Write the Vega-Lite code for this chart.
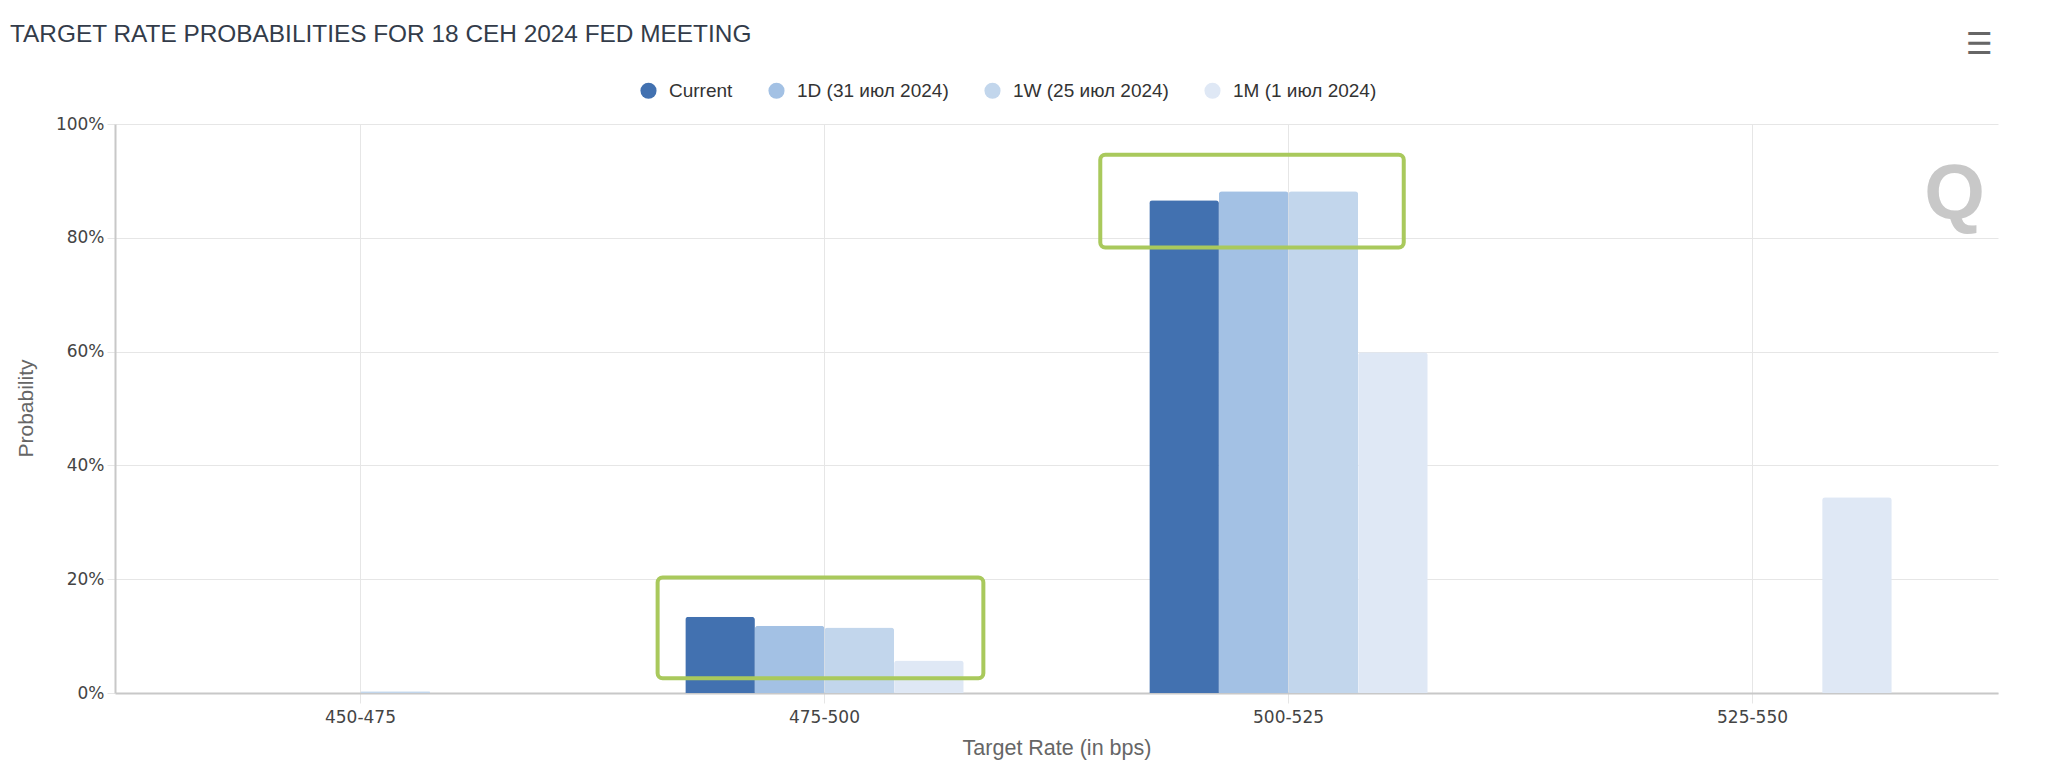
{
  "$schema": "https://vega.github.io/schema/vega-lite/v6.json",
  "width": 1883,
  "height": 569,
  "autosize": {"type": "none"},
  "padding": {"left": 115, "top": 124, "right": 50, "bottom": 76},
  "background": "white",
  "title": {
    "text": "TARGET RATE PROBABILITIES FOR 18 СЕН 2024 FED MEETING",
    "anchor": "start",
    "frame": "group",
    "font": "Liberation Sans",
    "fontSize": 24.4,
    "fontWeight": "normal",
    "color": "#333c4a",
    "baseline": "alphabetic",
    "offset": 0,
    "dx": -105,
    "dy": 36
  },
  "datasets": {
    "probs": [
      {"rate": "450-475", "series": "Current", "prob": 0},
      {"rate": "450-475", "series": "1D (31 июл 2024)", "prob": 0},
      {"rate": "450-475", "series": "1W (25 июл 2024)", "prob": 0.3},
      {"rate": "450-475", "series": "1M (1 июл 2024)", "prob": 0},
      {"rate": "475-500", "series": "Current", "prob": 13.4},
      {"rate": "475-500", "series": "1D (31 июл 2024)", "prob": 11.8},
      {"rate": "475-500", "series": "1W (25 июл 2024)", "prob": 11.5},
      {"rate": "475-500", "series": "1M (1 июл 2024)", "prob": 5.7},
      {"rate": "500-525", "series": "Current", "prob": 86.6},
      {"rate": "500-525", "series": "1D (31 июл 2024)", "prob": 88.2},
      {"rate": "500-525", "series": "1W (25 июл 2024)", "prob": 88.2},
      {"rate": "500-525", "series": "1M (1 июл 2024)", "prob": 59.9},
      {"rate": "525-550", "series": "Current", "prob": 0},
      {"rate": "525-550", "series": "1D (31 июл 2024)", "prob": 0},
      {"rate": "525-550", "series": "1W (25 июл 2024)", "prob": 0},
      {"rate": "525-550", "series": "1M (1 июл 2024)", "prob": 34.4}
    ],
    "boxes": [
      {"rate": "475-500", "lo": 2.6, "hi": 20.3},
      {"rate": "500-525", "lo": 78.3, "hi": 94.6}
    ],
    "marks": [
      {"rate": "525-550", "label": "Q", "level": 87.3},
      {"rate": "525-550", "label": "☰", "level": 113.8}
    ]
  },
  "layer": [
    {
      "data": {"name": "probs"},
      "mark": {"type": "bar", "cornerRadiusTopLeft": 3, "cornerRadiusTopRight": 3},
      "encoding": {
        "x": {
          "field": "rate",
          "type": "nominal",
          "sort": ["450-475", "475-500", "500-525", "525-550"],
          "scale": {"paddingInner": 0.4, "paddingOuter": 0.229},
          "axis": {
            "title": "Target Rate (in bps)",
            "bandPosition": 0.5,
            "labelAngle": 0,
            "labelFont": "DejaVu Sans",
            "labelFontSize": 17,
            "labelColor": "#444444",
            "labelPadding": 6,
            "labelBaseline": "top",
            "tickSize": 10,
            "tickColor": "#e6e6e6",
            "grid": true,
            "gridColor": "#e6e6e6",
            "gridWidth": 1,
            "domainColor": "#c8c8c8",
            "domainWidth": 2,
            "titleFont": "Liberation Sans",
            "titleFontSize": 21.5,
            "titleFontWeight": "normal",
            "titleColor": "#666666",
            "titleY": 55,
            "titleBaseline": "middle"
          }
        },
        "xOffset": {
          "field": "series",
          "type": "nominal",
          "sort": ["Current", "1D (31 июл 2024)", "1W (25 июл 2024)", "1M (1 июл 2024)"],
          "scale": {"paddingInner": 0, "paddingOuter": 0}
        },
        "y": {
          "field": "prob",
          "type": "quantitative",
          "scale": {"domain": [0, 100], "nice": false},
          "axis": {
            "title": "Probability",
            "values": [0, 20, 40, 60, 80, 100],
            "labelExpr": "datum.value + '%'",
            "labelFont": "DejaVu Sans",
            "labelFontSize": 17,
            "labelColor": "#444444",
            "labelPadding": 3,
            "tickSize": 8,
            "tickColor": "#e6e6e6",
            "grid": true,
            "gridColor": "#e6e6e6",
            "gridWidth": 1,
            "domain": true,
            "domainColor": "#c8c8c8",
            "domainWidth": 2,
            "titleFont": "Liberation Sans",
            "titleFontSize": 21,
            "titleFontWeight": "normal",
            "titleColor": "#666666",
            "titleX": -89,
            "titleY": 284,
            "titleAngle": -90,
            "titleAlign": "center",
            "titleBaseline": "middle"
          }
        },
        "color": {
          "field": "series",
          "type": "nominal",
          "scale": {
            "domain": ["Current", "1D (31 июл 2024)", "1W (25 июл 2024)", "1M (1 июл 2024)"],
            "range": ["#4271b0", "#a3c1e4", "#c2d6ec", "#dfe8f5"]
          },
          "legend": {
            "title": null,
            "orient": "none",
            "direction": "horizontal",
            "legendX": 524,
            "legendY": -43,
            "padding": 0,
            "symbolType": "circle",
            "symbolSize": 260,
            "symbolStrokeWidth": 0,
            "labelFont": "Liberation Sans",
            "labelFontSize": 19,
            "labelColor": "#333333",
            "labelOffset": 11,
            "columnPadding": 34
          }
        }
      }
    },
    {
      "data": {"name": "boxes"},
      "transform": [{"filter": "datum.rate == '475-500'"}],
      "mark": {"type": "bar", "fill": null, "fillOpacity": 0, "stroke": "#a9c95c", "strokeWidth": 4, "cornerRadius": 5, "width": {"band": 1.17}, "xOffset": -4},
      "encoding": {
        "x": {"field": "rate", "type": "nominal", "sort": ["450-475", "475-500", "500-525", "525-550"]},
        "y": {"field": "lo", "type": "quantitative"},
        "y2": {"field": "hi"}
      }
    },
    {
      "data": {"name": "boxes"},
      "transform": [{"filter": "datum.rate == '500-525'"}],
      "mark": {"type": "bar", "fill": null, "fillOpacity": 0, "stroke": "#a9c95c", "strokeWidth": 4, "cornerRadius": 5, "width": {"band": 1.09}, "xOffset": -36.5},
      "encoding": {
        "x": {"field": "rate", "type": "nominal", "sort": ["450-475", "475-500", "500-525", "525-550"]},
        "y": {"field": "lo", "type": "quantitative"},
        "y2": {"field": "hi"}
      }
    },
    {
      "data": {"name": "marks"},
      "transform": [{"filter": "datum.label == 'Q'"}],
      "mark": {"type": "text", "font": "Liberation Sans", "fontSize": 78, "fontWeight": "bold", "color": "#c8c8c8", "align": "center", "baseline": "middle", "dx": 202},
      "encoding": {
        "x": {"field": "rate", "type": "nominal", "sort": ["450-475", "475-500", "500-525", "525-550"]},
        "y": {"field": "level", "type": "quantitative"},
        "text": {"field": "label"}
      }
    },
    {
      "data": {"name": "marks"},
      "transform": [{"filter": "datum.label != 'Q'"}],
      "mark": {"type": "text", "font": "DejaVu Sans", "fontSize": 30, "fontWeight": "bold", "color": "#666666", "align": "center", "baseline": "middle", "dx": 227},
      "encoding": {
        "x": {"field": "rate", "type": "nominal", "sort": ["450-475", "475-500", "500-525", "525-550"]},
        "y": {"field": "level", "type": "quantitative"},
        "text": {"field": "label"}
      }
    }
  ],
  "config": {
    "view": {"stroke": null},
    "axis": {"labelOverlap": false}
  }
}
